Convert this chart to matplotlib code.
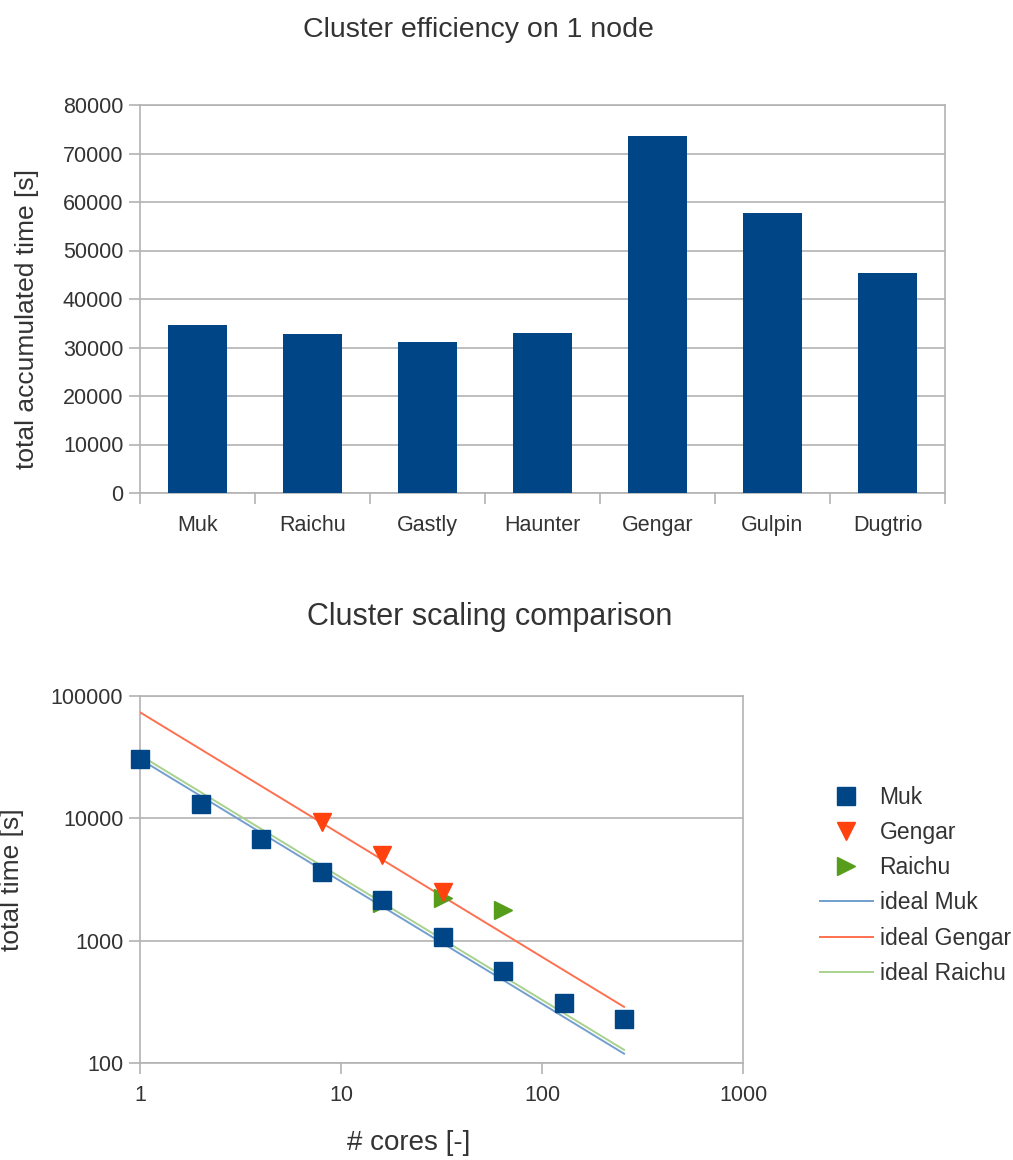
import matplotlib
matplotlib.use("Agg")
import matplotlib.pyplot as plt
from matplotlib.ticker import FixedLocator, NullLocator, FixedFormatter

plt.rcParams['font.family'] = ['Liberation Sans', 'DejaVu Sans']

# ---- data: top chart ----
clusters = ["Muk", "Raichu", "Gastly", "Haunter", "Gengar", "Gulpin", "Dugtrio"]
one_node_time = [34700, 32800, 31100, 33000, 73600, 57700, 45400]

# ---- data: bottom chart ----
muk_cores = [1, 2, 4, 8, 16, 32, 64, 128, 256]
muk_time = [30500, 13100, 6770, 3640, 2150, 1070, 564, 309, 229]
gengar_cores = [8, 16, 32]
gengar_time = [9330, 5010, 2500]
raichu_cores = [16, 32, 64]
raichu_time = [2050, 2230, 1780]
ideal_cores = [1, 256]
ideal_muk = [30500, 30500 / 256]
ideal_gengar = [73600, 73600 / 256]
ideal_raichu = [32800, 32800 / 256]

W, H = 1013, 1160
fig = plt.figure(figsize=(W / 100, H / 100), dpi=100)
fig.patch.set_facecolor("white")

def ax_rect(l, t, r, b):
    return [l / W, 1 - b / H, (r - l) / W, (b - t) / H]

GRID = "#b3b3b3"
TXT = "#333333"
BAR = "#004586"

# ---- top chart ----
ax1 = fig.add_axes(ax_rect(140, 105, 945, 493))
x = list(range(len(clusters)))
ax1.bar(x, one_node_time, width=0.52, color=BAR, zorder=3)
ax1.set_xlim(-0.5, len(clusters) - 0.5)
ax1.set_ylim(0, 80000)
ax1.set_yticks(range(0, 80001, 10000))
ax1.set_xticks(x)
ax1.set_xticklabels(clusters)
ax1.xaxis.set_minor_locator(FixedLocator([i - 0.5 for i in range(len(clusters) + 1)]))
ax1.tick_params(axis="x", which="major", length=0, pad=16, labelsize=15.5, labelcolor=TXT)
ax1.tick_params(axis="x", which="minor", length=8, color=GRID, width=1.2)
ax1.tick_params(axis="y", length=8, color=GRID, width=1.2, pad=4, labelsize=15.5, labelcolor=TXT)
ax1.grid(axis="y", color=GRID, lw=1.2, zorder=0)
for s in ax1.spines.values():
    s.set_color(GRID)
    s.set_linewidth(1.2)
fig.text(27 / W, 1 - 319 / H, "total accumulated time [s]", rotation=90, ha="center",
         va="center", fontsize=19, color=TXT)
fig.text(478 / W, 1 - 30 / H, "Cluster efficiency on 1 node", ha="center", va="center",
         fontsize=20.5, color=TXT)

# ---- bottom chart ----
ax2 = fig.add_axes(ax_rect(140, 696, 743, 1063))
ax2.set_xscale("log")
ax2.set_yscale("log")
ax2.set_xlim(1, 1000)
ax2.set_ylim(100, 100000)
l1, = ax2.plot(ideal_cores, ideal_muk, color="#729fcf", lw=1.4, zorder=3)
l2, = ax2.plot(ideal_cores, ideal_gengar, color="#ff7050", lw=1.4, zorder=3)
l3, = ax2.plot(ideal_cores, ideal_raichu, color="#a9d18e", lw=1.4, zorder=3)
m3, = ax2.plot(raichu_cores, raichu_time, ls="none", marker=">", ms=13, color="#579d1c",
               mec="#579d1c", zorder=4, clip_on=False)
m1, = ax2.plot(muk_cores, muk_time, ls="none", marker="s", ms=13, color=BAR, mec=BAR,
               zorder=5, clip_on=False)
m2, = ax2.plot(gengar_cores, gengar_time, ls="none", marker="v", ms=13, color="#ff420e",
               mec="#ff420e", zorder=6, clip_on=False)

ax2.xaxis.set_major_locator(FixedLocator([1, 10, 100, 1000]))
ax2.xaxis.set_major_formatter(FixedFormatter(["1", "10", "100", "1000"]))
ax2.xaxis.set_minor_locator(NullLocator())
ax2.yaxis.set_major_locator(FixedLocator([100, 1000, 10000, 100000]))
ax2.yaxis.set_major_formatter(FixedFormatter(["100", "1000", "10000", "100000"]))
ax2.yaxis.set_minor_locator(NullLocator())
ax2.tick_params(axis="x", length=8, color=GRID, width=1.2, pad=8, labelsize=15.5, labelcolor=TXT)
ax2.tick_params(axis="y", length=8, color=GRID, width=1.2, pad=4, labelsize=15.5, labelcolor=TXT)
ax2.grid(axis="y", color=GRID, lw=1.2, zorder=0)
for s in ax2.spines.values():
    s.set_color(GRID)
    s.set_linewidth(1.2)
fig.text(409 / W, 1 - 1143 / H, "# cores [-]", ha="center", va="center",
         fontsize=20, color=TXT)
fig.text(12 / W, 1 - 880 / H, "total time [s]", rotation=90, ha="center", va="center",
         fontsize=19, color=TXT)
fig.text(490 / W, 1 - 617 / H, "Cluster scaling comparison", ha="center", va="center",
         fontsize=22, color=TXT)

fig.legend([m1, m2, m3, l1, l2, l3],
           ["Muk", "Gengar", "Raichu", "ideal Muk", "ideal Gengar", "ideal Raichu"],
           loc="upper left", bbox_to_anchor=(820 / W, 1 - 786 / H), frameon=False,
           fontsize=16.5, handlelength=2.3, handletextpad=0.3, labelspacing=0.53,
           labelcolor=TXT, borderaxespad=0, borderpad=0)

fig.savefig("out.png", dpi=100, facecolor="white")
